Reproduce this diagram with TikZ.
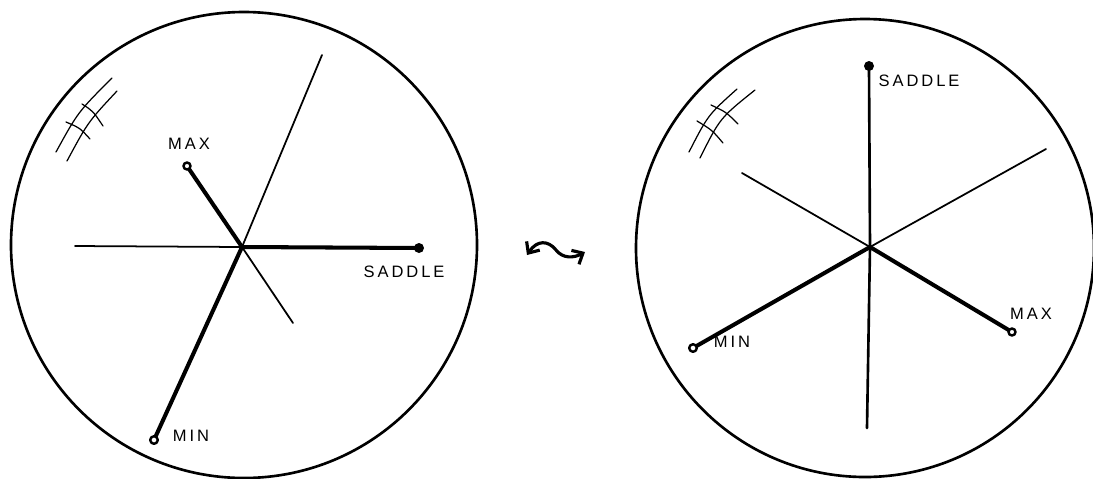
\documentclass[tikz,border=0pt]{standalone}
\usepackage{fontspec}
\setsansfont{Liberation Sans}[LetterSpace=18]
\usetikzlibrary{arrows.meta}

\begin{document}
\begin{tikzpicture}[
    x=0.02cm, y=-0.02cm,
    line cap=round,
    line join=round,
    font=\sffamily\fontsize{9.4}{11}\selectfont,
    rim/.style={line width=1.5pt},
    thinray/.style={line width=1pt},
    midray/.style={line width=1.5pt},
    thickray/.style={line width=2.3pt},
    hatch/.style={line width=0.7pt},
    opendot/.style={draw, line width=1.4pt, fill=white},
    filldot/.style={fill=black},
    tag/.style={inner sep=0pt}
]

% -----------------------
% Frame
% -----------------------
\useasboundingbox (0,0) rectangle (1093,478);

% -----------------------
% Coordinates (left disc)
% -----------------------
\coordinate (L)     at (244,245);
\coordinate (Lo)    at (242,247);
\coordinate (Lwest) at (75,246);
\coordinate (Lsad)  at (419,248);
\coordinate (Lup)   at (322,55);
\coordinate (Lmin)  at (154,440);
\coordinate (Lmax)  at (187,166);
\coordinate (Lend)  at (293,323);

% -----------------------
% Coordinates (right disc)
% -----------------------
\coordinate (R)     at (865,248);
\coordinate (Ro)    at (870,247);
\coordinate (Rsad)  at (869,66);
\coordinate (Rsouth) at (867,428);
\coordinate (Rmin)  at (693,348);
\coordinate (Rne)   at (1046,149);
\coordinate (Rnw)   at (742,173);
\coordinate (Rmax)  at (1012,332);

% -----------------------
% Discs
% -----------------------
\draw[rim] (L) circle (233);
\draw[rim] (R) circle (229);

% -----------------------
% Left rays
% -----------------------
\draw[thinray]  (Lwest) -- (Lo);
\draw[thickray] (Lo) -- (Lsad);
\draw[thinray]  (Lo) -- (Lup);
\draw[thickray] (Lo) -- (Lmin);
\draw[thickray] (Lmax) -- (Lo);
\draw[thinray]  (Lo) -- (Lend);

% -----------------------
% Right rays
% -----------------------
\draw[midray]   (Rsad) -- (Ro);
\draw[midray]   (Ro) -- (Rsouth);
\draw[thickray] (Rmin) -- (Ro);
\draw[thinray]  (Ro) -- (Rne);
\draw[thinray]  (Rnw) -- (Ro);
\draw[thickray] (Ro) -- (Rmax);

% -----------------------
% End points
% -----------------------
\fill[filldot]  (Lsad) circle (5);
\draw[opendot]  (Lmax) circle (3.5);
\draw[opendot]  (Lmin) circle (3.8);
\fill[filldot]  (Rsad) circle (5);
\draw[opendot]  (Rmin) circle (3.8);
\draw[opendot]  (Rmax) circle (3.5);

% -----------------------
% Labels
% -----------------------
\node[tag] (lmaxtag) at (189,144) {MAX};
\node[tag] (lsadtag) at (404,272) {SADDLE};
\node[tag] (lmintag) at (191,436) {MIN};
\node[tag] (rsadtag) at (919,81)  {SADDLE};
\node[tag] (rmaxtag) at (1031,314) {MAX};
\node[tag] (rmintag) at (732,342) {MIN};

% -----------------------
% Hatching
% -----------------------
\draw[hatch] (56,152) .. controls (78,112) .. (112,78);
\draw[hatch] (67,161) .. controls (88,122) .. (117,91);
\draw[hatch] (82,104) .. controls (93,111) .. (103,126);
\draw[hatch] (66,122) .. controls (80,128) .. (90,139);

\draw[hatch] (689,152) .. controls (708,115) .. (737,89);
\draw[hatch] (700,158) .. controls (720,118) .. (755,90);
\draw[hatch] (711,105) .. controls (726,112) .. (738,124);
\draw[hatch] (697,121) .. controls (712,130) .. (723,143);

% -----------------------
% Exchange arrow
% -----------------------
\draw[line width=1.8pt, {Straight Barb[length=5pt,width=9pt]}-{Straight Barb[length=5pt,width=9pt]}]
    (527,255) .. controls (537,240) and (548,240) .. (556,250)
    .. controls (563,259) and (574,258) .. (585,252);

\end{tikzpicture}
\end{document}
